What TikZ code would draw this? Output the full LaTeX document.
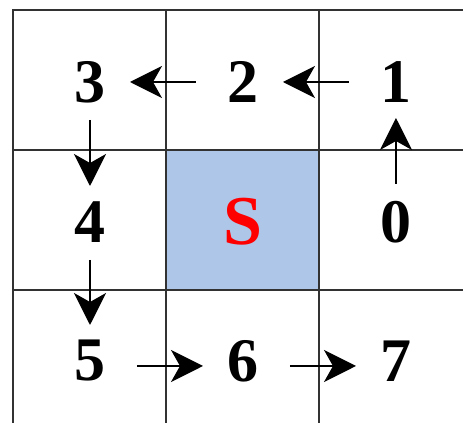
\documentclass[tikz,border=0pt]{standalone}
\usepackage{fontspec}
\setmainfont{Liberation Serif}
\usetikzlibrary{calc, positioning, arrows.meta}
\definecolor{cellblue}{RGB}{174,198,231}
\definecolor{gridgray}{RGB}{50,50,50}

\begin{document}
\begin{tikzpicture}[x=0.5pt, y=-0.5pt]
    % Definindo os estilos
    \tikzstyle{num} = [font=\fontsize{31}{36}\selectfont\bfseries, inner sep=0pt]
    \tikzstyle{start} = [text=red, font=\fontsize{35}{40}\selectfont\bfseries, inner sep=0pt]
    \tikzstyle{grid_line} = [draw, color=gridgray, line width=0.7pt]
    \tikzstyle{border_line} = [draw, color=gridgray, line width=1pt]
    \tikzstyle{harrow} = [draw, line width=0.8pt, shorten <=23.5pt, shorten >=20pt, -{Stealth[length=16pt, width=16pt, inset=4.5pt]}]
    \tikzstyle{varrow} = [draw, line width=0.8pt, shorten <=19pt, shorten >=18pt, -{Stealth[length=16pt, width=16pt, inset=4.5pt]}]

    \useasboundingbox (0,0) rectangle (463,423);

    % Celula central
    \fill [cellblue] (166,150) rectangle (319,290);

    % Grade
    \path [grid_line] (166,10) -- (166,423);
    \path [grid_line] (319,10) -- (319,423);
    \path [grid_line] (13,150) -- (463,150);
    \path [grid_line] (13,290) -- (463,290);
    \path [border_line] (13,423) -- (13,10) -- (463,10);

    % Posicionando os nos
    \node [num] (p3) at (90,82) {3};
    \node [num] (p2) at (243,82) {2};
    \node [num] (p1) at (396,82) {1};
    \node [num] (p4) at (90,222) {4};
    \node [start] (s) at (243,222) {S};
    \node [num] (p0) at (396,222) {0};
    \node [num] (p5) at (90,361) {5};
    \node [num] (p6) at (243,361) {6};
    \node [num] (p7) at (396,361) {7};

    % Percurso
    \path [varrow] (p0.center) -- (p1.center);
    \path [harrow] (p1.center) -- (p2.center);
    \path [harrow] (p2.center) -- (p3.center);
    \path [varrow] (p3.center) -- (p4.center);
    \path [varrow] (p4.center) -- (p5.center);
    \path [harrow] ([yshift=-2.5pt]p5.center) -- ([yshift=-2.5pt]p6.center);
    \path [harrow] ([yshift=-2.5pt]p6.center) -- ([yshift=-2.5pt]p7.center);
\end{tikzpicture}
\end{document}
